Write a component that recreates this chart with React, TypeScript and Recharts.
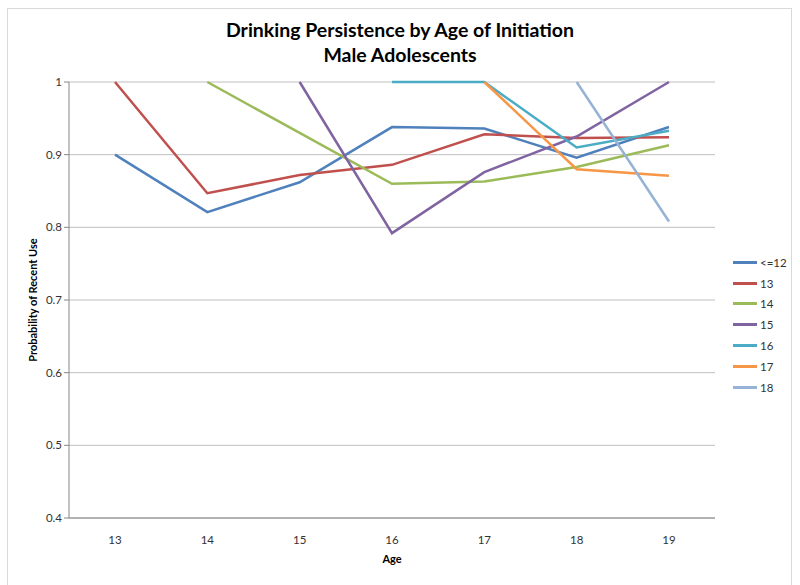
import React from 'react'
import { LineChart, Line, XAxis, YAxis, CartesianGrid } from 'recharts'

const ages = ['13', '14', '15', '16', '17', '18', '19']

// probability of recent use, by age of initiation (null = not started yet)
const le12 = [0.9, 0.821, 0.862, 0.938, 0.936, 0.896, 0.938]
const init13 = [1.0, 0.847, 0.872, 0.886, 0.928, 0.923, 0.924]
const init14 = [null, 1.0, 0.93, 0.86, 0.863, 0.883, 0.913]
const init15 = [null, null, 1.0, 0.792, 0.876, 0.925, 1.0]
const init16 = [null, null, null, 1.0, 1.0, 0.91, 0.933]
const init17 = [null, null, null, null, 1.0, 0.88, 0.871]
const init18 = [null, null, null, null, null, 1.0, 0.808]

const seriesNames = ['<=12', '13', '14', '15', '16', '17', '18']
const seriesValues = [le12, init13, init14, init15, init16, init17, init18]
const COLORS = ['#4F81BD', '#C0504D', '#9BBB59', '#8064A2', '#4BACC6', '#F79646', '#95B3D7']

const yTicks = [0.4, 0.5, 0.6, 0.7, 0.8, 0.9, 1]

const data = ages.map((age, i) => {
  const row: Record<string, any> = { age }
  seriesNames.forEach((name, s) => {
    row[name] = seriesValues[s][i]
  })
  return row
})

const FONT = 'Lato, "Open Sans", sans-serif'

export default function App() {
  document.body.style.margin = '0'
  return (
    <div style={{ position: 'relative', width: 800, height: 585, background: '#fff', fontFamily: FONT }}>
      <div
        style={{
          position: 'absolute',
          left: 7,
          top: 8,
          width: 785,
          height: 590,
          border: '1px solid #d9d9d9',
          boxSizing: 'border-box'
        }}
      />
      <div
        style={{
          position: 'absolute',
          left: 0,
          top: 17,
          width: 800,
          textAlign: 'center',
          fontWeight: 700,
          fontSize: 19.5,
          lineHeight: '25px',
          color: '#000'
        }}
      >
        <div>Drinking Persistence by Age of Initiation</div>
        <div>Male Adolescents</div>
      </div>

      <LineChart
        width={800}
        height={585}
        data={data}
        margin={{ top: 82, right: 85, left: 0, bottom: 17 }}
        style={{ position: 'absolute', left: 0, top: 0 }}
      >
        <CartesianGrid vertical={false} stroke="#bfbfbf" strokeWidth={1} />
        <XAxis
          dataKey="age"
          padding={{ left: 46, right: 46 }}
          height={50}
          tickLine={false}
          axisLine={{ stroke: '#868686' }}
          tick={{ fontSize: 11.5, fill: '#333', fontFamily: FONT }}
          tickMargin={12}
          label={{ value: 'Age', position: 'insideBottom', offset: 5, fontSize: 11, fontWeight: 700, fill: '#000', fontFamily: FONT }}
        />
        <YAxis
          type="number"
          domain={[0.4, 1]}
          ticks={yTicks}
          width={69}
          axisLine={{ stroke: '#868686' }}
          tickLine={{ stroke: '#868686' }}
          tickSize={5}
          tick={{ fontSize: 11.5, fill: '#333', fontFamily: FONT }}
          label={{
            value: 'Probability of Recent Use',
            angle: -90,
            position: 'insideLeft',
            offset: 33,
            style: { textAnchor: 'middle', fontSize: 11, fontWeight: 700, fill: '#000', fontFamily: FONT }
          }}
        />
        {seriesNames.map((name, i) => (
          <Line
            key={name}
            type="linear"
            dataKey={name}
            stroke={COLORS[i]}
            strokeWidth={2.5}
            dot={false}
            activeDot={false}
            isAnimationActive={false}
          />
        ))}
      </LineChart>

      <div style={{ position: 'absolute', left: 733, top: 252 }}>
        {seriesNames.map((name, i) => (
          <div key={name} style={{ display: 'flex', alignItems: 'center', height: 20.8 }}>
            <div style={{ width: 24, height: 3, background: COLORS[i], marginRight: 3 }} />
            <span style={{ fontSize: 11.5, color: '#333' }}>{name}</span>
          </div>
        ))}
      </div>
    </div>
  )
}
